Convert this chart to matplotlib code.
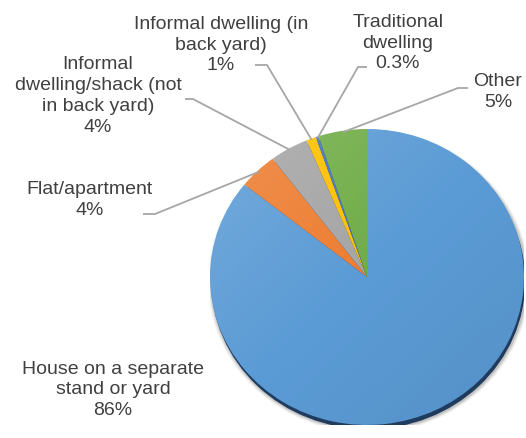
import numpy as np
import matplotlib
matplotlib.use("Agg")
import matplotlib.pyplot as plt
from matplotlib.patches import Ellipse, Circle

# dwelling types, clockwise from 12 o'clock
labels = ["House on a separate\nstand or yard",
          "Flat/apartment",
          "Informal\ndwelling/shack (not\nin back yard)",
          "Informal dwelling (in\nback yard)",
          "Traditional\ndwelling",
          "Other"]
values = [86, 4, 4, 1, 0.3, 5]
colors = ["#5B9BD5", "#ED7D31", "#A5A5A5", "#FFC000", "#4472C4", "#70AD47"]

# label block centres and leader elbows (pixels, y down)
label_pos = [(113, 390), (90, 200), (98, 96), (221, 45), (398, 43), (498, 92)]
leaders = [None,
           [(143, 214), (155, 214)],
           [(185, 99), (193, 99)],
           [(255, 65), (267, 65)],
           [(367, 67), (358, 67)],
           [(468, 88), (458, 88)]]

W, H = 526, 438
cx, cy, rx, ry = 367, 277, 157, 148

plt.rcParams['font.family'] = ['Liberation Sans', 'DejaVu Sans']
fig = plt.figure(figsize=(W / 100, H / 100), dpi=100)
ax = fig.add_axes([(cx - rx) / W, (H - cy - ry) / H, 2 * rx / W, 2 * ry / H])

# soft drop shadow / rim under the disc
for i, a in enumerate([0.05, 0.08, 0.12]):
    s = 0.025 - i * 0.008
    ax.add_patch(Ellipse((0.012, -0.03), 2 + s * 2, 2 + s * 2, color="#000000",
                         alpha=a, lw=0, zorder=0))
ax.add_patch(Ellipse((0.008, -0.028), 2, 2, color="#1F3B5E", lw=0, zorder=0.5))

wedges, _ = ax.pie(values, colors=colors, startangle=90, counterclock=False,
                   radius=1, wedgeprops=dict(linewidth=0, zorder=1))

# light top-left to darker bottom-right shading
gx, gy = np.meshgrid(np.linspace(-1, 1, 200), np.linspace(1, -1, 200))
t = np.clip((-gx + gy) / 2.0, -1, 1)
rgba = np.zeros((200, 200, 4))
rgba[..., :3] = np.where(t[..., None] > 0, 1.0, 0.0)
rgba[..., 3] = np.where(t > 0, 0.16 * t, 0.07 * -t)
im = ax.imshow(rgba, extent=(-1, 1, -1, 1), aspect='auto', zorder=2,
               interpolation='bilinear')
im.set_clip_path(Circle((0, 0), 1, transform=ax.transData))

ax.set_aspect('auto')
ax.set_xlim(-1, 1)
ax.set_ylim(-1, 1)
ax.axis('off')

# overlay in pixel coordinates for labels and leader lines
ov = fig.add_axes([0, 0, 1, 1], facecolor='none')
ov.set_xlim(0, W)
ov.set_ylim(H, 0)
ov.axis('off')

to_ov = ov.transData.inverted()
for w, lab, v, pos, ld in zip(wedges, labels, values, label_pos, leaders):
    ov.text(pos[0], pos[1], f"{lab}\n{v:g}%", ha='center', va='center',
            fontsize=14, color="#404040", linespacing=1.3)
    if ld is None:
        continue
    mid = np.deg2rad((w.theta1 + w.theta2) / 2)
    edge = to_ov.transform(ax.transData.transform((0.99 * np.cos(mid),
                                                   0.99 * np.sin(mid))))
    xs = [ld[0][0], ld[1][0], edge[0]]
    ys = [ld[0][1], ld[1][1], edge[1]]
    ov.plot(xs, ys, color="#A6A6A6", lw=1.3, solid_capstyle='butt')

fig.savefig("out.png", dpi=100)
